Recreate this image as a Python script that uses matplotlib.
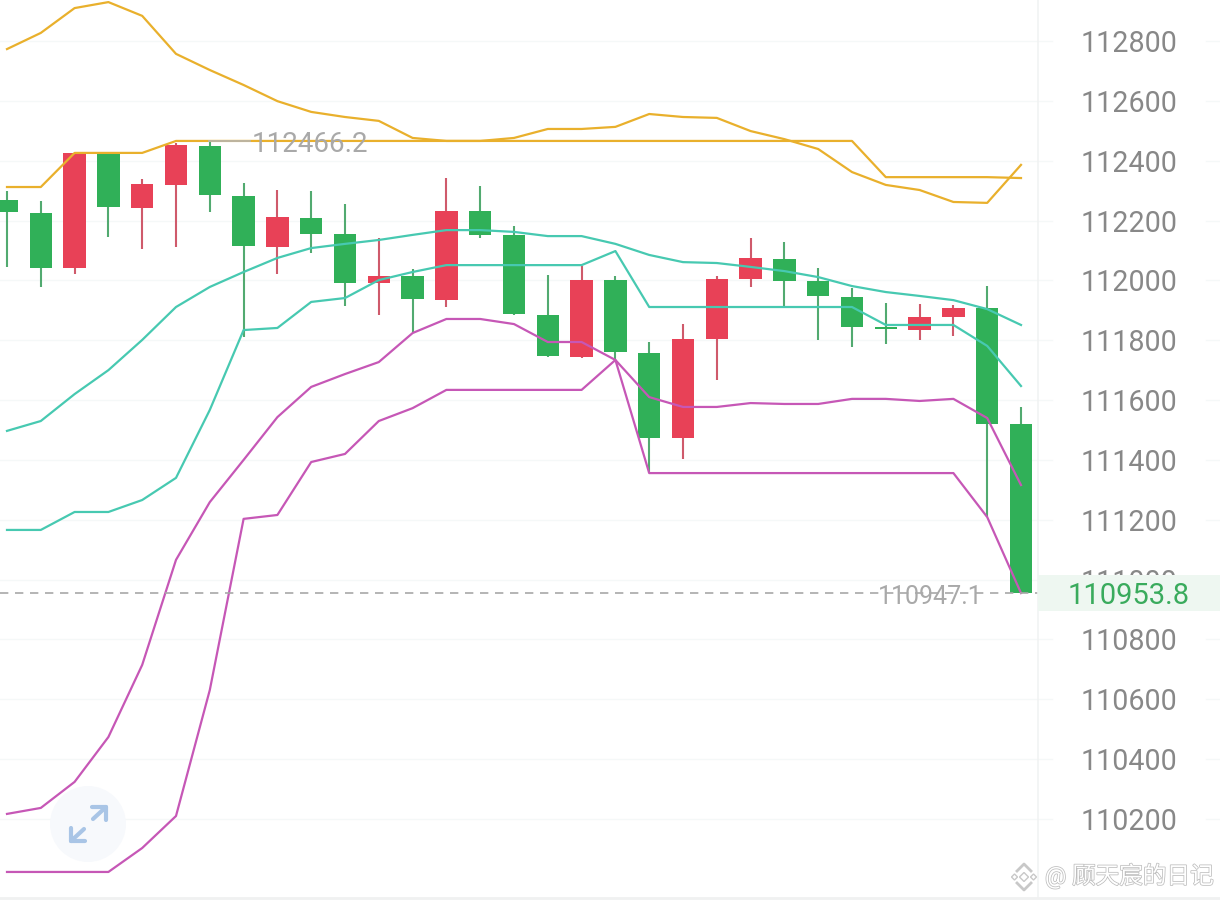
import matplotlib
matplotlib.use("Agg")
import matplotlib.pyplot as plt
from matplotlib.patches import Circle, Rectangle, Polygon
from matplotlib.transforms import blended_transform_factory
import matplotlib.patheffects as pe

W, H = 1220, 901

# price data (index = candle number); colour says direction of the candle
open_ = [112269,112225,112041,112422,112242,112319,112449,112282,112112,112208,112155,111991,112015,111934,112232,112152,111884,111744,112001,111757,111473,111804,112005,112071,111998,111944,111844,111834,111878,111908,111520]
close = [112229,112041,112426,112245,112322,112452,112285,112115,112212,112155,111991,112015,111938,112232,112152,111888,111747,112001,111761,111473,111804,112005,112075,111998,111948,111844,111838,111878,111908,111520,110955]
high  = [112299,112265,112426,112422,112339,112459,112469,112325,112302,112299,112255,112142,112038,112342,112315,112182,112018,112048,112015,111794,111854,112015,112142,112128,112041,111975,111924,111921,111918,111981,111577]
low   = [112045,111978,112021,112145,112105,112112,112229,111811,112021,112092,111914,111884,111827,111911,112142,111884,111744,111741,111734,111356,111403,111667,111978,111911,111801,111777,111787,111801,111814,111209,110955]

yellow_upper = [112773,112827,112910,112930,112884,112757,112703,112653,112599,112563,112546,112533,112476,112466,112466,112476,112506,112506,112513,112556,112546,112543,112499,112472,112439,112362,112319,112302,112262,112259,112386]
yellow_lower = [112312,112312,112426,112426,112426,112466,112466,112466,112466,112466,112466,112466,112466,112466,112466,112466,112466,112466,112466,112466,112466,112466,112466,112466,112466,112466,112345,112345,112345,112345,112342]
teal_upper = [111497,111530,111620,111700,111801,111911,111978,112028,112075,112108,112122,112135,112152,112168,112168,112162,112148,112148,112122,112085,112061,112058,112045,112031,112011,111981,111961,111948,111934,111904,111851]
teal_lower = [111166,111166,111226,111226,111266,111340,111567,111834,111841,111928,111941,112001,112028,112051,112051,112051,112051,112051,112098,111911,111911,111911,111911,111911,111911,111911,111851,111851,111851,111781,111647]
magenta_upper = [110217,110237,110324,110474,110715,111066,111259,111400,111543,111644,111687,111727,111824,111871,111871,111854,111794,111794,111734,111610,111577,111577,111590,111587,111587,111604,111604,111597,111604,111540,111316]
magenta_lower = [110023,110023,110023,110023,110103,110210,110631,111203,111216,111393,111420,111530,111573,111634,111634,111634,111634,111634,111734,111356,111356,111356,111356,111356,111356,111356,111356,111356,111356,111209,110955]

tick_values = [112800,112600,112400,112200,112000,111800,111600,111400,111200,111000,110800,110600,110400,110200]
last_price = 110953.8
marked_high = 112466.2
marked_low = 110947.1
watermark = "@ 顾天宸的日记"

GREEN, RED = "#30b058", "#e84157"
WICK_G, WICK_R = "#52aa70", "#cf5a6b"
YEL, TEAL, MAG = "#e9b02c", "#47c9b1", "#c657b6"
TICK = "#888888"
FAINT = "#a9a9a9"
GRID = "#f5f8f8"

plt.rcParams["font.family"] = ["Roboto", "Noto Sans CJK SC", "DejaVu Sans"]
fig = plt.figure(figsize=(W / 100, H / 100), dpi=100, facecolor="white")

# main price axes: candle i is at pixel 7 + 33.8 i
ax = fig.add_axes([0, 0, 1, 1])
ax.set_xlim(-7 / 33.8, (W - 7) / 33.8)
ax.set_ylim(112937 - 3.3419 * H, 112937)
ax.axis("off")

ov = fig.add_axes([0, 0, 1, 1], facecolor="none")
ov.set_xlim(0, W)
ov.set_ylim(H, 0)
ov.axis("off")

px_x = blended_transform_factory(ov.transData, ax.transData)

for v in tick_values:
    ax.plot([0, 1052], [v, v], transform=px_x, color=GRID, lw=1, zorder=1)
    ax.plot([1206, W], [v, v], transform=px_x, color=GRID, lw=1, zorder=1)

n = len(open_)
for i in range(n):
    up = close[i] > open_[i]
    ax.vlines(i, low[i], high[i], color=WICK_R if up else WICK_G, lw=1.5, zorder=3)
    b0, b1 = min(open_[i], close[i]), max(open_[i], close[i])
    ax.add_patch(Rectangle((i - 0.33, b0), 0.66, b1 - b0, facecolor=RED if up else GREEN,
                           edgecolor="none", zorder=4))

xs = list(range(n))
for series, col in [(yellow_upper, YEL), (yellow_lower, YEL), (teal_upper, TEAL),
                    (teal_lower, TEAL), (magenta_upper, MAG), (magenta_lower, MAG)]:
    ax.plot(xs, series, color=col, lw=1.6, solid_joinstyle="round", zorder=5)

# overlay furniture in pixels
ov.plot([1038, 1038], [0, 897], color="#f1f3f3", lw=1.2, zorder=1)
ov.plot([0, W], [897.5, 897.5], color="#f0f1f1", lw=2, zorder=1)

for v in tick_values:
    ov.text(1129, v, str(v), transform=px_x, ha="center", va="center_baseline",
            fontsize=20.6, color=TICK, zorder=2)

ov.add_patch(Rectangle((1038, 575), 182, 36, facecolor="#eef7f1", edgecolor="none", zorder=3))
ov.text(1129, 593, f"{last_price:.1f}", ha="center", va="center_baseline", fontsize=21,
        color="#3aab5d", zorder=4)
ax.axhline(last_price, color="#a8a8a8", lw=1.2, dashes=(5, 4), zorder=6,
           xmax=1038 / W)

ov.plot([209, 250], [141, 141], color="#b5b5b5", lw=1.2, zorder=1)
ov.text(252, 142, f"{marked_high:.1f}", ha="left", va="center_baseline", fontsize=20,
        color=FAINT, zorder=6)
ov.text(878, 595, f"{marked_low:.1f}", ha="left", va="center_baseline", fontsize=18,
        color=FAINT, zorder=6)

# expand button
ov.add_patch(Circle((88, 824), 38, facecolor="#f7f9fc", edgecolor="none", zorder=2))
ac = "#a9c5e6"
ov.plot([93, 106], [819, 807], color=ac, lw=3, solid_capstyle="round", zorder=7)
ov.plot([92, 106, 106], [807, 807, 820], color=ac, lw=3, solid_capstyle="round",
        solid_joinstyle="round", zorder=7)
ov.plot([71, 84], [841, 829], color=ac, lw=3, solid_capstyle="round", zorder=7)
ov.plot([71, 71, 85], [828, 841, 841], color=ac, lw=3, solid_capstyle="round",
        solid_joinstyle="round", zorder=7)

# watermark
stroke = [pe.withStroke(linewidth=1.1, foreground="#bdbdbd")]
ov.text(1045, 876, watermark, ha="left", va="center", fontsize=17, color="white",
        path_effects=stroke, zorder=8)
logo = "#c8c8c8"
cx, cy = 1024, 877
for dx, dy, r in [(0, 0, 4.5), (-9.5, 0, 3), (9.5, 0, 3)]:
    ov.add_patch(Polygon([(cx + dx, cy + dy - r), (cx + dx + r, cy + dy),
                          (cx + dx, cy + dy + r), (cx + dx - r, cy + dy)],
                         closed=True, facecolor="white", edgecolor=logo, lw=1, zorder=8))
ov.plot([cx - 7, cx, cx + 7], [cy - 6, cy - 13, cy - 6], color=logo, lw=2, zorder=8)
ov.plot([cx - 7, cx, cx + 7], [cy + 6, cy + 13, cy + 6], color=logo, lw=2, zorder=8)

fig.savefig("out.png", dpi=100, facecolor="white")
